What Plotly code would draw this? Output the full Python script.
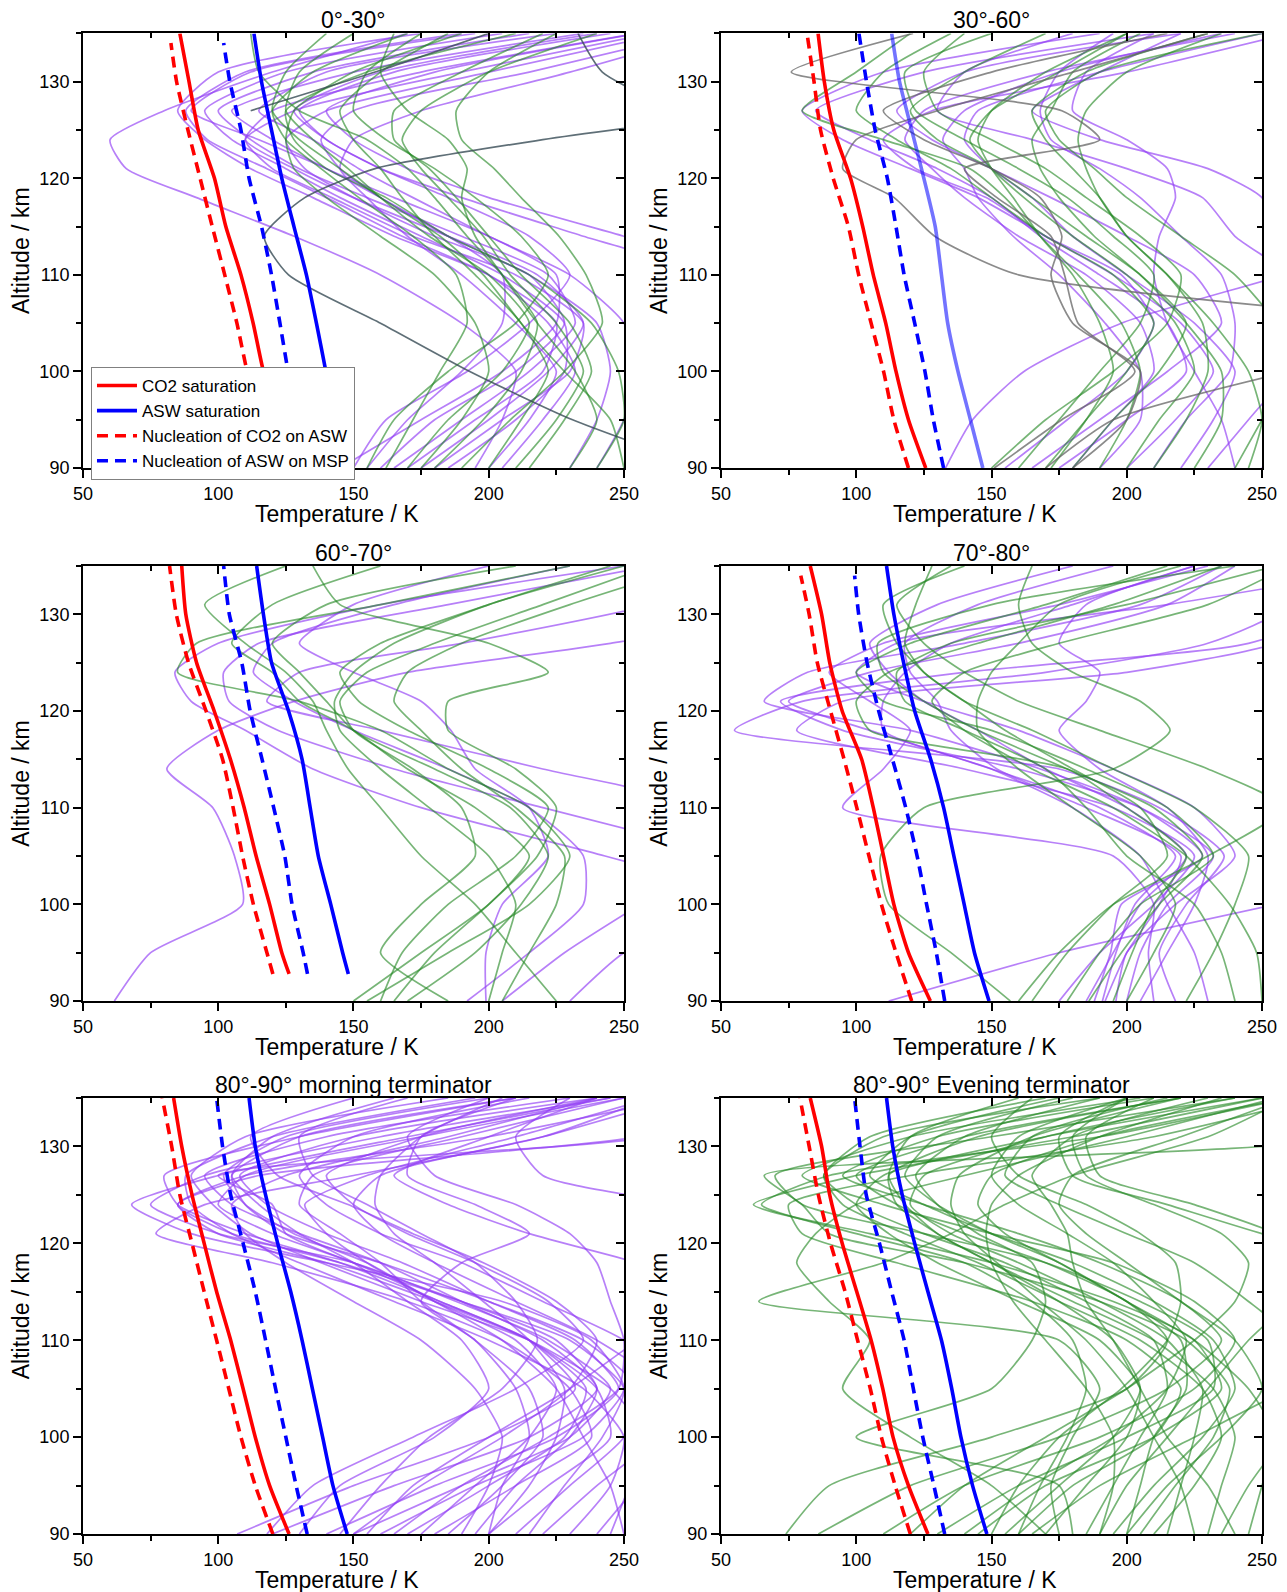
import plotly.graph_objects as go

FONT = "Liberation Sans, Arial, sans-serif"

PANEL_TITLES = ["0°-30°", "30°-60°", "60°-70°", "70°-80°",
                "80°-90° morning terminator", "80°-90° Evening terminator"]
X_TITLE = "Temperature / K"
Y_TITLE = "Altitude / km"

# Altitude grid (km) on which the temperature profiles are sampled
ALT = [90, 95, 100, 105, 110, 114, 118, 121, 124, 127, 131, 135]

# Altitude grids of the saturation / nucleation curves
SAT_ALT = [90, 95, 100, 105, 110, 115, 120, 125, 130, 135]
SAT_ALT_60_70 = [92.8, 95, 100, 105, 110, 115, 120, 125, 130, 135]
NUC_ALT_TOP134 = [90, 95, 100, 105, 110, 115, 120, 125, 130, 134]

SAT_ALT_BY_PANEL = [SAT_ALT, SAT_ALT, SAT_ALT_60_70, SAT_ALT, SAT_ALT, SAT_ALT]
NUC_ALT_BY_PANEL = [NUC_ALT_TOP134, SAT_ALT, SAT_ALT_60_70, NUC_ALT_TOP134, SAT_ALT, SAT_ALT]

# Temperatures (K) of each curve, one row per panel
CO2_SAT = [
    [128, 122, 116.7, 112.9, 108.4, 102.8, 98.6, 92.6, 89.2, 85.8],
    [125.7, 119.3, 114.7, 110.9, 106.3, 102.4, 97.9, 91.7, 88.2, 85.9],
    [126.2, 123.5, 119, 114, 109.6, 104.5, 98.5, 92, 88, 86.5],
    [127.4, 119.3, 113.9, 110.1, 106.3, 102, 94.8, 90.2, 87.2, 83],
    [126.2, 119, 113.7, 109.2, 104.6, 99.4, 94.8, 90.3, 86.5, 83.5],
    [126.5, 119.3, 113.6, 109.8, 105.5, 100.2, 94.8, 90.2, 87.2, 83],
]
ASW_SAT = [
    [148.7, 143, 139.8, 136.3, 132.6, 128, 123.5, 119.7, 116, 113.2],
    [146.8, 142.2, 137.6, 133.8, 131.5, 129.2, 125, 120.5, 116, 113.1],
    [148.1, 146, 141.6, 137, 134, 131, 126, 119.7, 116.7, 114.2],
    [149.1, 143.7, 139.9, 136.1, 132.3, 127.5, 121.6, 117.5, 113.9, 111.2],
    [147.7, 142.4, 138.6, 134.8, 131, 126.8, 122, 117.5, 113.7, 111.4],
    [148.3, 143, 138.7, 135.3, 131.5, 126.5, 121.6, 117, 113.5, 111.2],
]
NUC_CO2_ON_ASW = [
    [122, 116, 110.7, 106.9, 102.4, 97.8, 93.3, 88.8, 84.6, 82.5],
    [119.3, 113.9, 110.1, 105.5, 100.9, 97.1, 91.5, 86.8, 84.4, 81.8],
    [120.2, 118, 113, 109, 105.5, 101.6, 95.5, 89, 84.5, 82],
    [120.5, 114.7, 109.3, 104.7, 100.2, 95.5, 90.5, 85.6, 82.6, 79.5],
    [120.2, 113.7, 108.4, 103.9, 99.4, 94.8, 90.3, 85.8, 82.8, 79.3],
    [120, 114.4, 109.3, 105.2, 100.5, 95.9, 90.5, 86, 82.6, 79.2],
]
NUC_ASW_ON_MSP = [
    [134, 128.8, 125.8, 122.8, 119.7, 116, 111.4, 108.4, 104.3, 102],
    [132.3, 128.5, 125.4, 121.6, 117.7, 114.7, 111.5, 107, 103.8, 101],
    [133, 131.4, 127.3, 124.6, 120.5, 116.2, 111.8, 108.7, 104.1, 102],
    [132.7, 129.6, 126, 122.5, 118.3, 113.4, 108.3, 104, 100.9, 99.4],
    [132.9, 128.8, 125, 121.2, 117.5, 113.7, 109.2, 104.6, 101.6, 99.4],
    [132.7, 128.7, 124.6, 121.1, 117.7, 113.1, 108.6, 103.7, 101.4, 99.4],
]

# ---- Temperature profiles (K) on ALT, per latitude band ----
P1_PURPLE = [
    [195, 205, 210, 190, 160, 128, 92, 66, 60, 80, 120, 170],
    [145, 175, 205, 225, 225, 200, 165, 140, 120, 105, 150, 235],
    [165, 190, 215, 232, 222, 190, 155, 130, 112, 100, 135, 215],
    [175, 200, 222, 235, 218, 185, 150, 128, 110, 120, 175, 255],
    [185, 210, 228, 228, 205, 175, 145, 125, 105, 95, 125, 205],
    [250, 280, 300, 300, 280, 235, 190, 160, 140, 128, 160, 240],
    [270, 300, 300, 300, 300, 250, 200, 170, 150, 140, 180, 255],
    [160, 180, 210, 228, 215, 180, 150, 132, 125, 140, 200, 265],
    [205, 220, 232, 222, 200, 168, 140, 118, 96, 88, 110, 190],
    [150, 162, 192, 215, 230, 215, 185, 160, 140, 130, 165, 245],
    [230, 240, 245, 240, 215, 185, 160, 145, 138, 150, 215, 275],
    [170, 195, 220, 225, 200, 165, 135, 112, 95, 85, 100, 175],
    [240, 250, 255, 250, 230, 200, 172, 152, 135, 115, 140, 225],
    [200, 215, 225, 210, 190, 170, 155, 145, 150, 175, 230, 280],
    [180, 205, 230, 235, 210, 172, 142, 120, 110, 128, 190, 260],
    [155, 170, 190, 205, 205, 185, 160, 140, 115, 90, 112, 195],
]
P1_GREEN = [
    [170, 185, 205, 215, 200, 178, 160, 148, 135, 125, 130, 150],
    [200, 212, 222, 212, 195, 180, 168, 160, 150, 145, 160, 185],
    [230, 240, 232, 218, 205, 195, 190, 192, 185, 170, 160, 165],
    [155, 165, 185, 210, 222, 212, 195, 180, 162, 150, 155, 175],
    [250, 245, 228, 212, 198, 182, 160, 145, 130, 120, 125, 140],
    [180, 198, 212, 218, 205, 192, 180, 170, 155, 130, 115, 112],
    [215, 228, 238, 230, 212, 200, 188, 178, 165, 165, 190, 220],
    [162, 172, 182, 192, 188, 172, 152, 138, 125, 120, 135, 170],
    [190, 208, 228, 242, 236, 226, 212, 202, 190, 188, 200, 225],
    [240, 250, 248, 238, 215, 185, 162, 140, 128, 125, 155, 210],
    [175, 190, 200, 195, 180, 160, 140, 128, 125, 128, 150, 190],
    [210, 225, 235, 225, 208, 198, 185, 175, 168, 175, 200, 240],
]
P1_GRAY = [
    [280, 231, 193, 160, 126, 117, 132, 158, 220, 300, None, None],
    [None, None, None, None, None, None, None, None, None, 270, 242, 233],
    [None, None, None, None, None, None, None, None, None, 112, 158, 200],
]

P2_PURPLE = [
    [133, 143, 162, 198, 258, 300, 300, 300, 300, 300, 300, 300],
    [175, 200, 222, 215, 190, 168, 150, 130, 105, 85, 125, 210],
    [200, 218, 232, 220, 195, 170, 145, 120, 95, 80, 110, 190],
    [165, 190, 215, 235, 225, 200, 172, 150, 128, 115, 140, 220],
    [220, 232, 240, 225, 200, 180, 165, 150, 140, 145, 190, 250],
    [190, 205, 205, 192, 175, 158, 145, 140, 132, 140, 175, 235],
    [240, 235, 225, 215, 210, 212, 218, 215, 200, 180, 185, 210],
    [210, 222, 238, 240, 235, 220, 205, 190, 172, 168, 175, 195],
    [155, 178, 200, 210, 198, 170, 148, 122, 110, 128, 200, 260],
    [230, 245, 260, 270, 260, 240, 228, 200, 165, 130, 140, 180],
    [180, 195, 210, 205, 185, 160, 140, 128, 118, 125, 170, 240],
    [250, 260, 270, 270, 260, 255, 250, 230, 190, 165, 190, 220],
]
P2_GREEN = [
    [170, 185, 200, 210, 195, 170, 150, 135, 115, 100, 110, 135],
    [180, 195, 212, 222, 205, 185, 165, 150, 130, 120, 140, 170],
    [200, 212, 225, 218, 200, 180, 162, 150, 142, 150, 175, 200],
    [150, 170, 195, 215, 220, 205, 185, 170, 150, 130, 125, 140],
    [225, 235, 235, 222, 205, 188, 175, 168, 165, 172, 180, 205],
    [190, 200, 205, 198, 182, 168, 155, 142, 110, 80, 100, 120],
    [245, 250, 245, 232, 215, 200, 190, 185, 182, 185, 200, 235],
    [160, 175, 190, 205, 210, 195, 178, 160, 140, 122, 118, 150],
    [210, 222, 230, 228, 215, 200, 190, 180, 170, 165, 185, 230],
    [172, 185, 195, 190, 180, 168, 158, 150, 145, 150, 170, 200],
    [240, 250, 260, 255, 240, 220, 200, 188, 175, 170, 190, 250],
]
P2_GRAY = [
    [151, 176, 203, 182, 177, 172, 152, 140, 190, 176, 76, 121],
    [None, None, None, 320, 160, 129, 114, 95, 100, 130, 180, 230],
    [170, 195, 260, None, None, None, None, None, None, None, None, None],
    [180, 200, 205, 180, 172, 176, 168, 150, 125, 110, 150, 215],
]

P3_PURPLE = [
    [61.6, 75, 109, 106, 98, 81, 100, 128, 170, 245, 320, 320],
    [205, 228, 256, None, None, None, None, None, None, None, None, None],
    [199, 199, 205, 222, 215, 195, 186, 175, 150, 130, 150, 200],
    [None, None, None, 290, 220, 165, 122, 104, 102, 115, 185, 260],
    [None, None, 310, 243, 175, 135, 110, 90, 84, 100, 160, 250],
    [192, 215, 235, 235, 215, 185, 150, 128, 113, 120, 165, 230],
    [230, 250, 290, 300, 280, 220, 160, 118, 130, 190, 260, 300],
]
P3_GREEN = [
    [150, 175, 200, 215, 195, 170, 150, 130, 120, 105, 120, 160],
    [160, 168, 185, 210, 222, 200, 170, 152, 145, 160, 200, 245],
    [205, 215, 225, 228, 210, 190, 175, 165, 170, 190, 230, 275],
    [225, 210, 195, 175, 160, 148, 140, 135, 125, 110, 95, 125],
    [155, 185, 215, 230, 215, 185, 160, 130, 85, 92, 160, 230],
    [165, 180, 200, 218, 225, 210, 185, 185, 222, 200, 145, 135],
    [200, 205, 210, 200, 178, 160, 145, 143, 150, 165, 200, 250],
    [170, 195, 212, 222, 208, 180, 150, 140, 130, 120, 140, 210],
    [185, 160, 175, 195, 190, 172, 150, 145, 155, 180, 220, 260],
]

P4_PURPLE = [
    [191, 196, 203, 218, 190, 150, 105, 75, 105, 160, 215, 240],
    [188, 194, 198, 228, 205, 168, 120, 66, 82, 140, 205, 235],
    [112, 175, 255, None, None, None, None, None, None, None, None, None],
    [218, 212, 222, 236, 212, 175, 55, 80, 170, 230, 260, 260],
    [200, 205, 215, 232, 205, 160, 95, 72, 140, 245, 280, 280],
    [175, 190, 210, 225, 195, 140, 78, 95, 200, 255, 280, 280],
    [192, 200, 212, 220, 185, 152, 135, 130, 120, 118, 145, 195],
    [230, 225, 215, 205, 180, 150, 110, 110, 118, 135, 180, 225],
    [185, 195, 205, 222, 200, 170, 145, 125, 112, 105, 130, 180],
    [205, 215, 225, 230, 215, 190, 175, 185, 190, 175, 185, 225],
    [210, 208, 210, 195, 95, 110, 120, 105, 90, 110, 175, 230],
    [196, 200, 218, 240, 225, 195, 160, 125, 100, 115, 215, 300],
]
P4_GREEN = [
    [157, 135, 112, 109, 125, 195, 216, 205, 180, 165, 160, 165],
    [195, 202, 210, 222, 200, 178, 105, 100, 112, 145, 195, 235],
    [165, 178, 195, 215, 205, 180, 155, 140, 125, 118, 122, 128],
    [178, 190, 205, 232, 215, 185, 150, 110, 100, 120, 170, 215],
    [200, 210, 218, 205, 180, 160, 145, 145, 150, 160, 175, 220],
    [222, 232, 240, 245, 225, 195, 165, 140, 125, 115, 110, 140],
    [160, 175, 195, 230, 258, 230, 190, 160, 140, 125, 115, 135],
    [240, 235, 225, 200, 185, 170, 140, 118, 115, 135, 200, 255],
    [186, 198, 212, 228, 210, 178, 145, 125, 110, 108, 150, 240],
    [250, 248, 238, 222, 195, 165, 140, 128, 140, 175, 230, 260],
]

P5_PURPLE = [
    [107, 150, 200, 232, 215, 182, 150, 120, 100, 110, 175, 250],
    [120, 165, 215, 240, 220, 190, 160, 130, 105, 95, 140, 230],
    [140, 180, 225, 248, 232, 200, 168, 140, 118, 108, 150, 240],
    [150, 190, 230, 245, 222, 188, 150, 100, 75, 95, 160, 245],
    [160, 195, 235, 250, 238, 205, 140, 90, 68, 100, 170, 245],
    [170, 200, 228, 236, 215, 182, 145, 110, 85, 80, 130, 210],
    [180, 210, 238, 230, 205, 170, 120, 77, 95, 150, 220, 260],
    [200, 222, 245, 240, 215, 180, 140, 100, 85, 110, 200, 270],
    [210, 230, 250, 255, 235, 200, 160, 125, 110, 105, 130, 210],
    [220, 240, 262, 270, 250, 220, 190, 160, 140, 130, 150, 215],
    [240, 255, 270, 265, 240, 210, 180, 160, 150, 160, 220, 270],
    [250, 245, 235, 225, 205, 180, 155, 128, 110, 102, 125, 200],
    [130, 145, 180, 200, 190, 170, 150, 130, 115, 105, 120, 165],
    [185, 205, 220, 215, 195, 175, 160, 145, 130, 135, 190, 250],
    [145, 160, 178, 205, 218, 210, 195, 175, 155, 135, 130, 170],
    [165, 190, 222, 248, 250, 245, 240, 230, 210, 180, 170, 200],
    [155, 172, 200, 230, 255, 275, 290, 300, 270, 220, 210, 230],
    [None, None, None, None, None, 300, 255, 215, 185, 165, 200, 240],
    [200, 205, 215, 210, 195, 175, 190, 215, 195, 170, 175, 210],
    [190, 200, 205, 195, 175, 150, 125, 110, 105, 125, 185, 240],
    [230, 245, 250, 235, 200, 165, 130, 105, 90, 88, 120, 195],
    [245, 252, 258, 245, 215, 175, 138, 112, 98, 90, 110, 185],
    [175, 195, 215, 225, 210, 180, 155, 140, 132, 155, 210, 260],
    [118, 135, 172, 210, 235, 222, 195, 170, 150, 140, 175, 240],
    [200, 215, 225, 228, 215, 198, 180, 165, 158, 160, 175, 205],
    [150, 175, 205, 230, 240, 225, 198, 172, 148, 122, 112, 150],
    [195, 210, 230, 240, 225, 190, 150, 125, 120, 100, 260, 300],
    [215, 228, 242, 250, 230, 190, 145, 105, 85, 115, 255, 300],
]

P6_GREEN = [
    [74, 90, 150, 200, 215, 200, 170, 140, 115, 100, 140, 220],
    [86, 120, 175, 215, 235, 220, 190, 160, 125, 95, 130, 210],
    [110, 140, 190, 225, 240, 225, 195, 150, 110, 80, 120, 205],
    [130, 160, 200, 232, 230, 205, 170, 125, 80, 70, 150, 240],
    [145, 170, 210, 235, 225, 195, 150, 105, 62, 100, 180, 250],
    [160, 180, 210, 220, 200, 165, 115, 80, 75, 120, 210, 270],
    [170, 185, 200, 205, 190, 160, 130, 112, 100, 110, 170, 250],
    [185, 195, 205, 215, 210, 185, 155, 125, 100, 88, 110, 190],
    [200, 205, 210, 222, 220, 200, 175, 150, 130, 118, 130, 180],
    [215, 220, 225, 228, 215, 190, 160, 135, 120, 125, 170, 240],
    [230, 235, 240, 232, 210, 180, 150, 130, 115, 112, 145, 220],
    [245, 250, 255, 245, 225, 200, 175, 155, 145, 150, 190, 260],
    [170, 150, 120, 95, 105, 90, 78, 85, 100, 140, 200, 255],
    [180, 175, 100, 150, 165, 170, 165, 145, 130, 122, 140, 190],
    [190, 200, 215, 230, 245, 260, 270, 255, 225, 190, 185, 210],
    [140, 165, 195, 215, 222, 210, 195, 178, 160, 150, 160, 200],
    [155, 175, 195, 205, 195, 175, 150, 130, 118, 112, 120, 160],
    [200, 215, 235, 250, 240, 220, 200, 185, 175, 180, 220, 260],
    [165, 190, 225, 260, 300, 300, 290, 250, 215, 180, 175, 200],
    [175, 172, 180, 190, 175, 64, 110, 135, 155, 180, 230, 260],
    [210, 225, 235, 228, 205, 175, 145, 118, 95, 88, 105, 170],
    [190, 195, 195, 185, 170, 158, 150, 148, 150, 160, 190, 235],
    [225, 220, 210, 200, 185, 168, 152, 140, 135, 138, 165, 220],
    [120, 140, 170, 200, 225, 240, 245, 235, 210, 185, 180, 200],
    [240, 230, 215, 205, 195, 185, 180, 178, 172, 165, 180, 230],
    [195, 210, 228, 240, 232, 210, 180, 150, 125, 105, 120, 175],
    [150, 160, 175, 198, 215, 220, 218, 205, 185, 160, 150, 165],
    [235, 245, 258, 270, 262, 245, 225, 200, 175, 155, 165, 215],
    [205, 218, 232, 238, 222, 190, 140, 90, 80, 66, 280, 300],
    [160, 168, 178, 185, 180, 165, 140, 100, 65, 90, 190, 260],
]

PURPLE = "rgba(145, 60, 245, 0.65)"
GREEN = "rgba(35, 135, 35, 0.62)"
GRAY_DARK = "rgba(55, 75, 85, 0.8)"
GRAY = "rgba(100, 100, 100, 0.75)"

PANEL_PROFILES = [
    [(P1_PURPLE, PURPLE), (P1_GREEN, GREEN), (P1_GRAY, GRAY_DARK)],
    [(P2_PURPLE, PURPLE), (P2_GREEN, GREEN), (P2_GRAY, GRAY)],
    [(P3_PURPLE, PURPLE), (P3_GREEN, GREEN)],
    [(P4_PURPLE, PURPLE), (P4_GREEN, GREEN)],
    [(P5_PURPLE, PURPLE)],
    [(P6_GREEN, GREEN)],
]

# panel placement (paper fractions)
FIG_W, FIG_H = 1287, 1592
X_DOM = [[0.0645, 0.4848], [0.5602, 0.9806]]
Y_DOM = [[0.7060, 0.9790], [0.3712, 0.6445], [0.0364, 0.3103]]


def ax_id(letter, k):
    return letter if k == 1 else f"{letter}{k}"


fig = go.Figure()

for p in range(6):
    k = p + 1
    xa, ya = ax_id("x", k), ax_id("y", k)
    for rows, color in PANEL_PROFILES[p]:
        for temps in rows:
            fig.add_trace(go.Scatter(
                x=temps, y=ALT, mode="lines",
                line=dict(color=color, width=1.7, shape="spline", smoothing=0.6),
                showlegend=False, hoverinfo="skip", xaxis=xa, yaxis=ya))

    show = (p == 0)
    sat_alt = SAT_ALT_BY_PANEL[p]
    nuc_alt = NUC_ALT_BY_PANEL[p]
    asw_color = "rgba(0, 0, 255, 0.55)" if p == 1 else "#0000ff"
    curves = [
        ("CO2 saturation", CO2_SAT[p], sat_alt, "#ff0000", "solid"),
        ("ASW saturation", ASW_SAT[p], sat_alt, asw_color, "solid"),
        ("Nucleation of CO2 on ASW", NUC_CO2_ON_ASW[p], nuc_alt, "#ff0000", "11px,7px"),
        ("Nucleation of ASW on MSP", NUC_ASW_ON_MSP[p], nuc_alt, "#0000ff", "11px,7px"),
    ]
    for name, temps, alts, color, dash in curves:
        fig.add_trace(go.Scatter(
            x=temps, y=alts, mode="lines", name=name,
            line=dict(color=color, width=3.6, dash=dash, shape="spline", smoothing=0.6),
            showlegend=show, hoverinfo="skip", xaxis=xa, yaxis=ya))

    # placeholder traces so the mirrored top / right axes get drawn
    fig.add_trace(go.Scatter(x=[None], y=[None], showlegend=False, hoverinfo="skip",
                             xaxis=ax_id("x", k + 6), yaxis=ya))
    fig.add_trace(go.Scatter(x=[None], y=[None], showlegend=False, hoverinfo="skip",
                             xaxis=xa, yaxis=ax_id("y", k + 6)))

line_style = dict(showgrid=False, zeroline=False, showline=True, linecolor="black",
                  linewidth=2, tickcolor="black", tickwidth=2, automargin=False)

layout = dict(
    width=FIG_W, height=FIG_H,
    margin=dict(l=0, r=0, t=0, b=0),
    paper_bgcolor="white", plot_bgcolor="white",
    font=dict(family=FONT, color="black"),
    showlegend=True,
    legend=dict(x=0.0707, y=0.7695, xanchor="left", yanchor="top",
                bgcolor="white", bordercolor="#808080", borderwidth=1,
                font=dict(size=17, family=FONT), tracegroupgap=0,
                itemwidth=40),
    annotations=[],
)

for p in range(6):
    k = p + 1
    r, c = divmod(p, 2)
    xd, yd = X_DOM[c], Y_DOM[r]
    xk = "xaxis" if k == 1 else f"xaxis{k}"
    yk = "yaxis" if k == 1 else f"yaxis{k}"
    layout[xk] = dict(
        domain=xd, range=[50, 250], anchor=ax_id("y", k),
        tickmode="linear", tick0=50, dtick=50, ticks="outside", ticklen=8,
        tickfont=dict(size=18),
        minor=dict(ticks="outside", ticklen=5, tickwidth=2, tickcolor="black",
                   tick0=50, dtick=25, showgrid=False),
        **line_style)
    layout[yk] = dict(
        domain=yd, range=[90, 135], anchor=ax_id("x", k),
        tickmode="linear", tick0=90, dtick=10, ticks="outside", ticklen=8,
        tickfont=dict(size=18),
        title=dict(text=Y_TITLE, font=dict(size=23), standoff=3),
        minor=dict(ticks="outside", ticklen=5, tickwidth=2, tickcolor="black",
                   tick0=90, dtick=5, showgrid=False),
        **line_style)
    # top and right frame with inward ticks
    layout[f"xaxis{k + 6}"] = dict(
        overlaying=ax_id("x", k), side="top", anchor=ax_id("y", k), range=[50, 250],
        tickmode="linear", tick0=50, dtick=50, ticks="inside", ticklen=8,
        showticklabels=False,
        minor=dict(ticks="inside", ticklen=5, tickwidth=2, tickcolor="black",
                   tick0=50, dtick=25, showgrid=False),
        **line_style)
    layout[f"yaxis{k + 6}"] = dict(
        overlaying=ax_id("y", k), side="right", anchor=ax_id("x", k), range=[90, 135],
        tickmode="linear", tick0=90, dtick=10, ticks="inside", ticklen=8,
        showticklabels=False,
        minor=dict(ticks="inside", ticklen=5, tickwidth=2, tickcolor="black",
                   tick0=90, dtick=5, showgrid=False),
        **line_style)
    # panel title
    layout["annotations"].append(dict(
        text=PANEL_TITLES[p], x=(xd[0] + xd[1]) / 2, y=yd[1],
        xref="paper", yref="paper", xanchor="center", yanchor="bottom",
        showarrow=False, font=dict(size=23, family=FONT), yshift=-2))
    # x-axis title, set slightly left of the panel centre
    layout["annotations"].append(dict(
        text=X_TITLE, x=(xd[0] + xd[1]) / 2 - 16.5 / FIG_W, y=yd[0],
        xref="paper", yref="paper", xanchor="center", yanchor="middle",
        showarrow=False, borderpad=0, font=dict(size=23, family=FONT), yshift=-46))

fig.update_layout(**layout)
fig.write_html("out.html")
